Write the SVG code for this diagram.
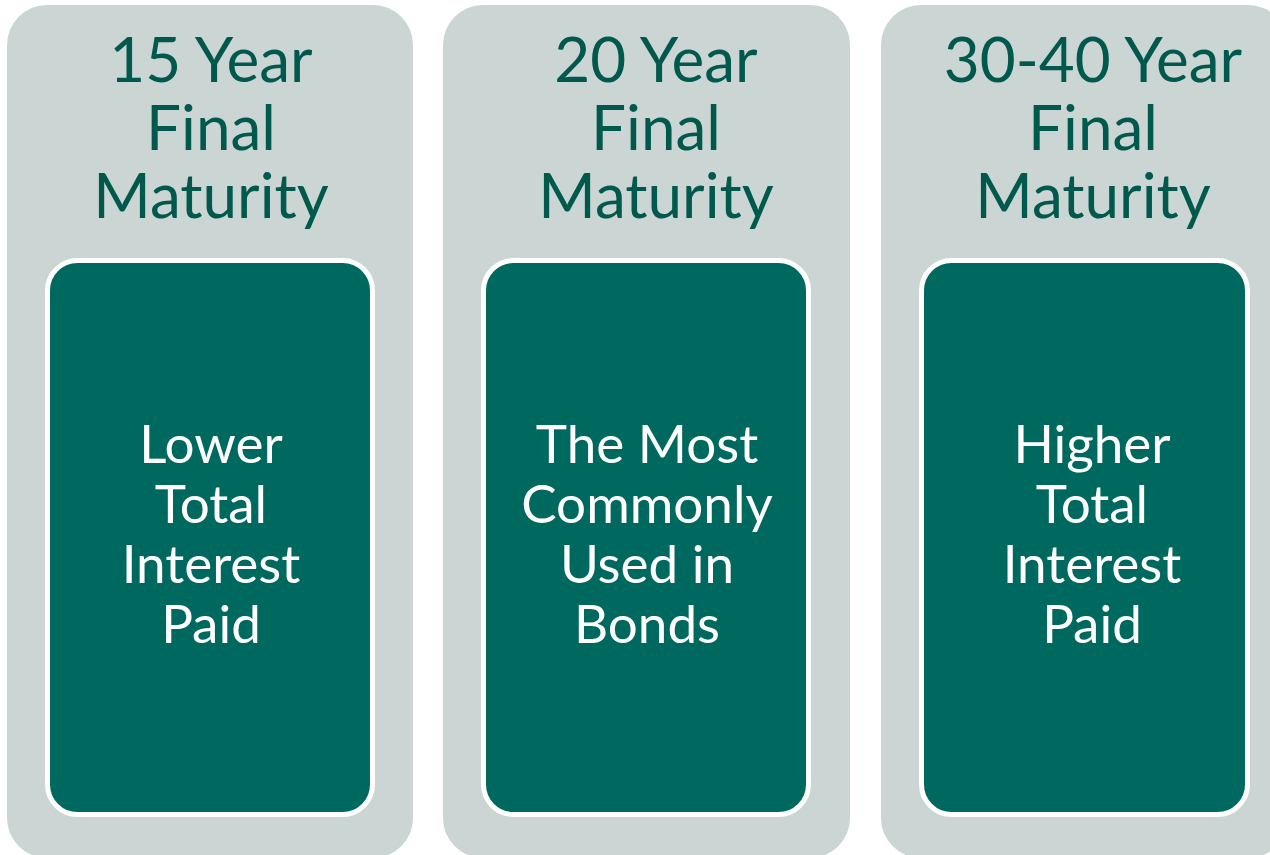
<svg xmlns="http://www.w3.org/2000/svg" width="1270" height="855" viewBox="0 0 1270 855">
<style>
.panel{fill:#CBD5D3;}
.box{fill:#00695F;stroke:#FFFFFF;stroke-width:5;}
.hdr{font-family:Lato,"Liberation Sans",sans-serif;font-size:62px;fill:#00594C;text-anchor:middle;}
.body{font-family:Lato,"Liberation Sans",sans-serif;font-size:53px;fill:#FFFFFF;text-anchor:middle;}
</style>
<rect width="1270" height="855" fill="#FFFFFF"/>
<g id="col1">
<rect class="panel" x="7" y="5" width="406" height="853" rx="40" ry="40"/>
<text class="hdr"><tspan x="211" y="82">15 Year</tspan><tspan x="211" y="150">Final</tspan><tspan x="211" y="218">Maturity</tspan></text>
<rect class="box" x="47.5" y="260.5" width="325" height="554" rx="30" ry="30"/>
<text class="body"><tspan x="211" y="463">Lower</tspan><tspan x="211" y="523">Total</tspan><tspan x="211" y="583">Interest</tspan><tspan x="211" y="643">Paid</tspan></text>
</g>
<g id="col2">
<rect class="panel" x="443" y="5" width="407" height="853" rx="40" ry="40"/>
<text class="hdr"><tspan x="656" y="82">20 Year</tspan><tspan x="656" y="150">Final</tspan><tspan x="656" y="218">Maturity</tspan></text>
<rect class="box" x="483.5" y="260.5" width="325" height="554" rx="30" ry="30"/>
<text class="body"><tspan x="647" y="463">The Most</tspan><tspan x="647" y="523">Commonly</tspan><tspan x="647" y="583">Used in</tspan><tspan x="647" y="643">Bonds</tspan></text>
</g>
<g id="col3">
<rect class="panel" x="881" y="5" width="407" height="853" rx="40" ry="40"/>
<text class="hdr"><tspan x="1093" y="82">30-40 Year</tspan><tspan x="1093" y="150">Final</tspan><tspan x="1093" y="218">Maturity</tspan></text>
<rect class="box" x="921.5" y="260.5" width="326" height="554" rx="30" ry="30"/>
<text class="body"><tspan x="1092" y="463">Higher</tspan><tspan x="1092" y="523">Total</tspan><tspan x="1092" y="583">Interest</tspan><tspan x="1092" y="643">Paid</tspan></text>
</g>
<g id="connectors"></g>
</svg>
